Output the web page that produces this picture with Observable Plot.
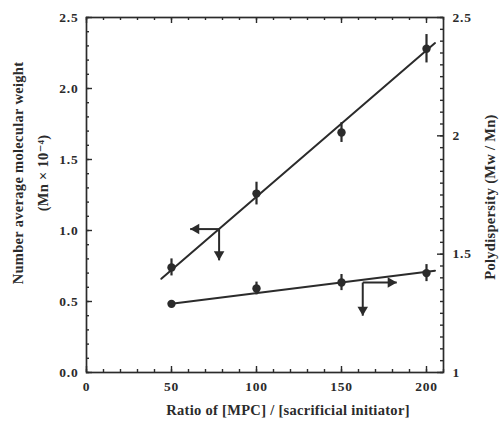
<!DOCTYPE html>
<html><head><meta charset="utf-8">
<script src="https://cdn.jsdelivr.net/npm/d3@7"></script>
<script src="https://cdn.jsdelivr.net/npm/@observablehq/plot@0.6"></script>
<style>
html,body{margin:0;padding:0;background:#fff;}
#chart{width:503px;height:421px;}
</style></head>
<body><div id="chart"></div>
<script>
// ---- data ----
const ratio = [50, 100, 150, 200];
const mn = [0.74, 1.26, 1.69, 2.28];          // Mn x 10^-4 (left axis)
const mnErr = [0.06, 0.08, 0.07, 0.10];
const pdi = [1.29, 1.355, 1.38, 1.42];        // Mw/Mn (right axis)
const pdiErr = [0.012, 0.027, 0.034, 0.036];
const mnFitX = [44, 205];
const mnFitY = [0.66, 2.32];
const pdiFitX = [50, 205];
const pdiFitY = [1.29, 1.43];
// arrow annotations: corner, horizontal tip, vertical tip
const mnArrowX = [78, 61];     // corner x, left tip x
const mnArrowY = [1.01, 0.79]; // corner y, down tip y
const pdiArrowX = [162.5, 182.5];
const pdiArrowY = [1.38, 1.24];
const xTicks = [0, 50, 100, 150, 200];
const mnTicks = [0.0, 0.5, 1.0, 1.5, 2.0, 2.5];
const pdiTicks = [1, 1.5, 2, 2.5];
const xMinor = d3.range(0, 211, 10);
const mnMinor = d3.range(0, 2.51, 0.1);
const pdiMinor = d3.range(1, 2.501, 0.05);

// map right-axis values onto the left scale
const pdiToY = p => (p - 1) / 1.5 * 2.5;

const W = 503, H = 421;
const mL = 86, mR = 60, mT = 17, mB = 49;
const fw = W - mL - mR, fh = H - mT - mB;
const ink = "#2b2b2b";

const pts = ratio.map((r, i) => ({x: r, mn: mn[i], me: mnErr[i], p: pdiToY(pdi[i]), pe: pdiToY(1 + pdiErr[i])}));
const mnFit = mnFitX.map((x, i) => ({x, y: mnFitY[i]}));
const pdiFit = pdiFitX.map((x, i) => ({x, y: pdiToY(pdiFitY[i])}));

const mnA = {cx: mnArrowX[0], cy: mnArrowY[0], hx: mnArrowX[1], vy: mnArrowY[1]};
const pdA = {cx: pdiArrowX[0], cy: pdiToY(pdiArrowY[0]), hx: pdiArrowX[1], vy: pdiToY(pdiArrowY[1])};

const lab = {fontSize: 13.5, fontWeight: "bold", fill: ink};

const chart = Plot.plot({
  width: W, height: H,
  marginLeft: mL, marginRight: mR, marginTop: mT, marginBottom: mB,
  style: {fontFamily: "'Liberation Serif', 'DejaVu Serif', serif", background: "#fff", color: ink, letterSpacing: "0.8px"},
  x: {domain: [0, 210], axis: null},
  y: {domain: [0, 2.5], axis: null},
  marks: [
    Plot.frame({stroke: ink, strokeWidth: 1.7}),
    // inward ticks: bottom & top
    Plot.tickX(xMinor, {x: d => d, stroke: ink, strokeWidth: 1.4, insetTop: fh - 3}),
    Plot.tickX(xMinor, {x: d => d, stroke: ink, strokeWidth: 1.4, insetBottom: fh - 3}),
    Plot.tickX(xTicks, {x: d => d, stroke: ink, strokeWidth: 1.4, insetTop: fh - 6}),
    Plot.tickX(xTicks, {x: d => d, stroke: ink, strokeWidth: 1.4, insetBottom: fh - 6}),
    // left ticks
    Plot.tickY(mnMinor, {y: d => d, stroke: ink, strokeWidth: 1.4, insetRight: fw - 3}),
    Plot.tickY(mnTicks, {y: d => d, stroke: ink, strokeWidth: 1.4, insetRight: fw - 6}),
    // right ticks
    Plot.tickY(pdiMinor, {y: d => pdiToY(d), stroke: ink, strokeWidth: 1.4, insetLeft: fw - 3}),
    Plot.tickY(pdiTicks, {y: d => pdiToY(d), stroke: ink, strokeWidth: 1.4, insetLeft: fw - 6}),
    // tick labels
    Plot.text(xTicks, {x: d => d, frameAnchor: "bottom", dy: 18, text: d => String(d), ...lab}),
    Plot.text(mnTicks, {y: d => d, frameAnchor: "left", dx: -8, textAnchor: "end",
      text: d => d.toFixed(1), ...lab}),
    Plot.text(pdiTicks, {y: d => pdiToY(d), frameAnchor: "right", dx: 9, textAnchor: "start",
      text: d => String(d), ...lab}),
    // fit lines
    Plot.line(mnFit, {x: "x", y: "y", stroke: ink, strokeWidth: 2}),
    Plot.line(pdiFit, {x: "x", y: "y", stroke: ink, strokeWidth: 2}),
    // error bars
    Plot.ruleX(pts, {x: "x", y1: d => d.mn - d.me, y2: d => d.mn + d.me, stroke: ink, strokeWidth: 2.2}),
    Plot.ruleX(pts, {x: "x", y1: d => d.p - d.pe, y2: d => d.p + d.pe, stroke: ink, strokeWidth: 2.2}),
    // points
    Plot.dot(pts, {x: "x", y: "mn", r: 4.2, fill: ink, stroke: "none"}),
    Plot.dot(pts, {x: "x", y: "p", r: 4.2, fill: ink, stroke: "none"}),
    // Mn arrow (left & down)
    Plot.link([mnA], {x1: "cx", y1: "cy", x2: "hx", y2: "cy", stroke: ink, strokeWidth: 2}),
    Plot.link([mnA], {x1: "cx", y1: "cy", x2: "cx", y2: "vy", stroke: ink, strokeWidth: 2}),
    Plot.dot([mnA], {x: "hx", y: "cy", symbol: "triangle", r: 3.9, rotate: -90, dx: 6, fill: ink, stroke: "none"}),
    Plot.dot([mnA], {x: "cx", y: "vy", symbol: "triangle", r: 3.9, rotate: 180, dy: -6, fill: ink, stroke: "none"}),
    // PDI arrow (right & down)
    Plot.link([pdA], {x1: "cx", y1: "cy", x2: "hx", y2: "cy", stroke: ink, strokeWidth: 2}),
    Plot.link([pdA], {x1: "cx", y1: "cy", x2: "cx", y2: "vy", stroke: ink, strokeWidth: 2}),
    Plot.dot([pdA], {x: "hx", y: "cy", symbol: "triangle", r: 3.9, rotate: 90, dx: -6, fill: ink, stroke: "none"}),
    Plot.dot([pdA], {x: "cx", y: "vy", symbol: "triangle", r: 3.9, rotate: 180, dy: -6, fill: ink, stroke: "none"})
  ]
});

// axis titles
const svg = d3.select(chart);
const font = "'Liberation Serif', 'DejaVu Serif', serif";
const title = (tf, txt) => svg.append("text").attr("transform", tf).attr("text-anchor", "middle")
  .attr("font-family", font).attr("font-size", 14.5).attr("font-weight", "bold").attr("fill", ink)
  .attr("letter-spacing", "0.3px").text(txt);
title("translate(288,415)", "Ratio of [MPC] / [sacrificial initiator]");
title("translate(23,173) rotate(-90)", "Number average molecular weight");
title("translate(48,173) rotate(-90)", "(Mn × 10⁻⁴)");
title("translate(495,197) rotate(-90)", "Polydispersity (Mw / Mn)");

document.getElementById("chart").appendChild(chart);
</script>
</body></html>
